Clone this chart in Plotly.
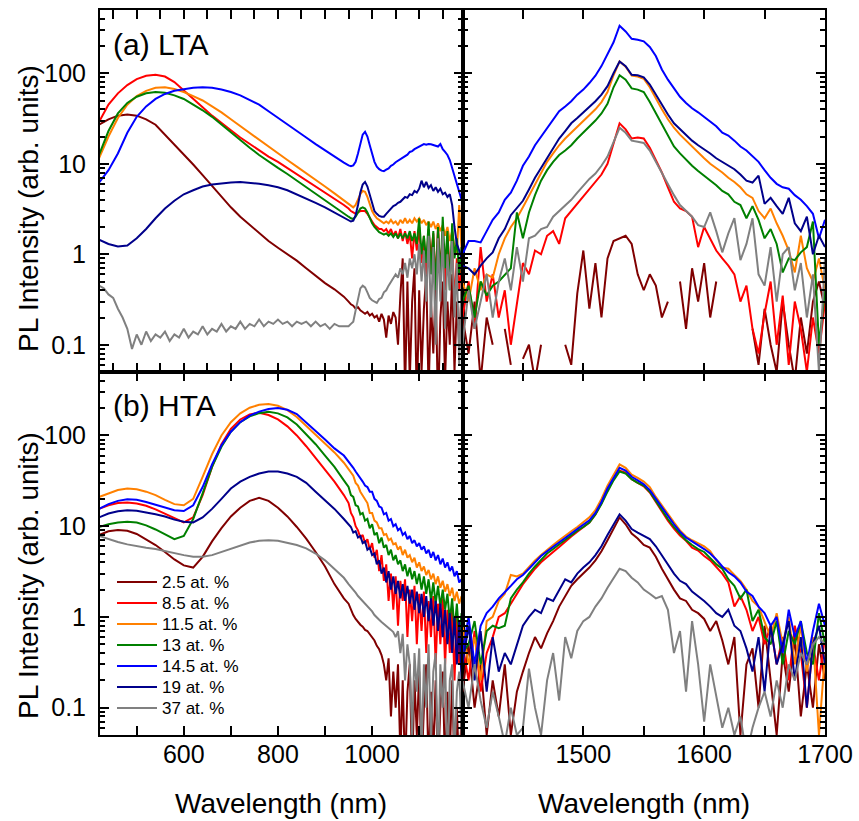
import plotly.graph_objects as go
import math

# ---------------- wavelength grids ----------------
wl_vis = list(range(420, 941, 20)) + list(range(950, 1191, 5))
wl_vis_fine = list(range(420, 941, 10)) + list(range(950, 1191, 5))
wl_ir = list(range(1400, 1701, 5))

labels = ["2.5 at. %", "8.5 at. %", "11.5 at. %", "13 at. %", "14.5 at. %", "19 at. %", "37 at. %"]
colors = ["#800000", "#FF0000", "#FF8000", "#008000", "#0000FF", "#00008B", "#808080"]

# ---------------- (a) LTA, visible ----------------
lta_vis_25 = [27, 31, 34, 35, 34, 31, 27, 21, 16.5, 12.5, 9.8, 7.5, 5.7, 4.3, 3.3, 2.6, 2.1, 1.7, 1.4, 1.18, 1.0, 0.85, 0.70, 0.58, 0.48, 0.41, 0.34,
              0.30, 0.28, 0.27, 0.25, 0.26, 0.24, 0.23, 0.22, 0.23, 0.21, 0.22, 0.20, 0.21, 0.18, 0.22, 0.19, 0.12, 0.21, 0.17, 0.23,
              0.2, 0.1, 0.35, 0.9, 0.03, 0.5, 0.04, 0.3, 0.7, 0.02, 0.4, 0.05, 0.25, 0.6, 0.03, 0.3, 0.08, 0.45, 0.02, 0.2, 0.5, 0.04,
              0.3, 0.1, 0.6, 0.05, 0.3, 0.1, 0.4]
lta_vis_85 = [29, 45, 60, 74, 86, 94, 96, 92, 80, 65, 52, 42, 34, 28, 23.5, 19.5, 16.5, 14, 12, 10.5, 9, 7.7, 6.6, 5.6, 4.8, 4.1, 3.5,
              3.2, 3.0, 2.9, 2.8, 2.9, 3.0, 3.0, 3.0, 2.8, 2.5, 2.3, 2.1, 2.0, 1.9, 1.9, 1.8, 1.9, 1.7, 1.9, 1.6,
              1.8, 1.5, 1.9, 1.4, 1.8, 1.3, 1.7, 0.9, 1.8, 1.1, 2.0, 0.8, 1.6, 0.6, 1.9, 0.9, 1.7, 0.5, 2.0, 0.7, 1.5, 0.4,
              1.8, 0.6, 1.2, 0.3, 0.9, 0.4, 0.8]
lta_vis_115 = [11.5, 20, 32, 45, 56, 64, 69, 70, 67, 62, 56, 50, 43, 37, 31, 26, 22, 18.5, 15.5, 13, 11, 9.3, 7.9, 6.6, 5.6, 4.7, 3.9,
               3.6, 3.4, 3.3, 3.5, 4.0, 4.6, 5.0, 4.9, 4.3, 3.6, 3.0, 2.7, 2.5, 2.4, 2.3, 2.2, 2.3, 2.2, 2.4, 2.2,
               2.3, 2.1, 2.4, 2.2, 2.5, 2.2, 2.4, 2.2, 2.5, 2.3, 2.5, 2.2, 2.4, 2.1, 2.3, 2.0, 2.3, 1.9, 2.2, 1.8, 2.1, 1.6,
               2.0, 1.4, 1.8, 1.2, 1.0, 3.5, 1.1]
lta_vis_13 = [12.5, 23, 36, 47, 55, 60, 62, 61, 57, 52, 45, 39, 33, 27, 22, 18, 15, 12.5, 10.5, 9, 7.7, 6.5, 5.5, 4.6, 3.9, 3.3, 2.8,
              2.6, 2.5, 2.45, 2.6, 2.9, 3.2, 3.3, 3.2, 2.9, 2.5, 2.2, 2.0, 1.85, 1.75, 1.7, 1.65, 1.7, 1.6, 1.7, 1.55,
              1.7, 1.5, 1.7, 1.5, 1.7, 1.5, 1.8, 1.4, 1.7, 1.3, 2.5, 1.0, 1.6, 0.8, 2.3, 0.6, 1.8, 0.4, 2.0, 0.5, 2.6, 0.7,
              1.8, 0.4, 2.2, 0.9, 1.5, 0.6, 1.2]
lta_vis_145 = [6.2, 8.5, 13, 22, 33, 43, 52, 59, 64, 67, 69, 70, 69, 66, 62, 57, 51, 45, 38, 32, 27, 23, 19.5, 16.5, 14, 12, 10.3,
               9.6, 9.4, 9.6, 10.5, 13, 17, 21, 22.5, 20, 16, 12.5, 10.5, 9.3, 8.7, 8.4, 8.3, 8.6, 8.9, 9.5, 9.8,
               10.4, 10.8, 11.3, 11.5, 12.2, 12.6, 13.5, 13.8, 14.5, 15, 15.5, 15.8, 16.5, 16.2, 16.5, 16.4, 16, 15.8, 15.5, 16.5, 14.5, 13.5,
               12.5, 11, 9, 7.5, 6, 4.8, 4.0]
lta_vis_19 = [1.45, 1.3, 1.22, 1.25, 1.5, 1.9, 2.5, 3.2, 3.9, 4.6, 5.1, 5.6, 5.9, 6.1, 6.2, 6.3, 6.2, 6.0, 5.8, 5.5, 5.1, 4.6, 4.1, 3.7, 3.3, 2.9, 2.55,
              2.4, 2.3, 2.35, 2.7, 3.5, 4.8, 5.9, 6.3, 5.6, 4.5, 3.6, 3.0, 2.8, 2.65, 2.6, 2.6, 2.8, 3.0, 3.2, 3.4,
              3.5, 3.7, 3.8, 4.0, 4.3, 4.2, 4.6, 4.5, 5.0, 4.8, 5.3, 6.5, 5.5, 6.3, 5.4, 5.8, 5.0, 5.5, 4.9, 5.3, 4.6, 4.8,
              4.3, 4.6, 3.5, 2.0, 1.3, 1.1, 0.9]
# 37 at.% uses the finer grid (wl_vis_fine)
lta_vis_37 = [0.45, 0.42, 0.36, 0.33, 0.25, 0.2, 0.15, 0.09, 0.13, 0.1, 0.14, 0.11, 0.13, 0.12, 0.14, 0.11, 0.13, 0.12, 0.15, 0.12,
              0.14, 0.13, 0.16, 0.13, 0.15, 0.14, 0.17, 0.14, 0.16, 0.15, 0.18, 0.15, 0.17, 0.16, 0.19, 0.16, 0.18, 0.17, 0.19, 0.17,
              0.18, 0.16, 0.18, 0.17, 0.18, 0.16, 0.18, 0.16, 0.17, 0.15, 0.17, 0.16, 0.16,
              0.16, 0.17, 0.18, 0.24, 0.33, 0.42, 0.45, 0.43, 0.38, 0.33, 0.31, 0.30, 0.29, 0.32, 0.33, 0.38, 0.40, 0.45, 0.5, 0.55,
              0.6, 0.55, 0.7, 0.6, 0.8, 0.55, 0.9, 0.7, 1.0, 0.6, 1.3, 0.5, 1.1, 0.3, 1.6, 0.2, 1.2, 0.1, 1.5, 0.3, 1.8, 0.15,
              1.0, 0.4, 1.4, 0.2, 0.8, 0.06, 0.5]

# ---------------- (a) LTA, infrared ----------------
lta_ir_25 = [0.2, 0.08, 0.3, 0.04, 0.2, 0.1, None, 0.15, 0.06, None, 0.07, 0.1, 0.04, 0.1, None, 0.06, None, 0.1, 0.06, 0.37,
             1.1, 0.25, 0.8, 0.2, 0.9, 1.4, 1.5, 1.6, 1.3, 0.6, 0.4, 0.6, 0.45, 0.2, 0.3, None, 0.5, 0.15, 0.7, 0.3,
             0.8, 0.2, 0.5, None, 0.3, None, 0.08, None, 0.15, 0.06, 0.25, 0.1, 0.05, 0.3, 0.1, 0.04, 0.2, 0.08, 0.3, 0.5, 0.25]
lta_ir_85 = [0.2, 0.5, 0.15, 1.2, 0.3, 0.6, 0.2, 0.4, 0.1, 0.3, 0.8, 0.6, 1.1, 1.0, 1.6, 1.8, 1.3, 2.5, 3.0, 3.6,
             4.3, 5.2, 6.2, 7.6, 10, 17, 28, 24, 19, 19.5, 19, 15, 11, 8, 5.5, 3.8, 3.2, 3.0, 2.6, 1.2,
             2.0, 1.5, 1.1, 0.9, 0.75, 0.6, 0.3, 0.45, 0.15, 0.08, 0.22, 0.5, 0.1, 0.35, 0.06, 0.3, 0.15, 0.05, 0.2, 0.08, 0.3]
lta_ir_115 = [0.5, 0.3, 0.7, 0.4, 0.6, 0.55, 1.0, 1.5, 2.0, 2.5, 3.3, 4.4, 6, 8, 10.5, 13, 16, 19, 22, 26,
              30, 34, 40, 48, 62, 95, 135, 118, 94, 92, 87, 70, 52, 40, 31, 25, 21, 18, 15.5, 13.5,
              11.5, 10, 9, 8, 7, 6.3, 5.5, 4.6, 4.2, 3.0, 2.5, 3.2, 2.2, 1.6, 1.1, 0.63, 1.6, 0.7, 0.5, 0.9, 0.4]
lta_ir_13 = [0.3, 0.45, 0.2, 0.5, 0.35, 0.45, 0.5, 0.6, 0.7, 2.9, 1.5, 2.9, 4.5, 6.5, 8.5, 10.5, 12.5, 14, 16, 19,
             22, 26, 30, 36, 46, 70, 95, 85, 68, 66, 62, 48, 36, 27, 20, 15.5, 13, 11, 9.5, 8.3,
             7.4, 6.6, 5.8, 5.0, 4.6, 3.8, 3.5, 2.5, 3.4, 2.4, 1.5, 1.9, 1.3, 0.63, 0.9, 0.86, 1.05, 1.2, 2.3, 0.1, 0.4]
lta_ir_145 = [1.0, 1.4, 1.4, 1.35, 1.8, 2.4, 2.9, 4.0, 4.8, 6.5, 9.5, 12, 16, 20, 25, 31, 38, 43, 49, 58,
              66, 78, 94, 120, 160, 220, 335, 290, 240, 235, 225, 195, 155, 110, 85, 68, 55, 47, 41, 37,
              33, 29, 26, 22, 20.5, 18, 15.5, 14, 12, 10.5, 8.5, 7, 6, 5.5, 5.3, 4.5, 4, 3.4, 2.8, 1.5, 2.4]
lta_ir_19 = [0.75, 0.7, 0.6, 0.75, 0.9, 1.05, 1.5, 1.9, 2.7, 3.2, 3.9, 5.2, 7, 9, 11.5, 14.5, 19, 23, 28, 32,
             37, 42, 49, 58, 72, 100, 135, 120, 96, 95, 90, 75, 58, 45, 35, 28, 24, 20.5, 18, 16,
             14.5, 13, 11.5, 10.5, 9.5, 8.7, 7.6, 6.5, 6.2, 7.4, 3.6, 4.2, 3.4, 2.8, 4.2, 2.2, 1.8, 2.6, 1.0, 1.6, 1.2]
lta_ir_37 = [0.1, 0.4, 0.15, 0.3, 0.6, 0.2, 0.5, 0.9, 0.4, 1.2, 0.5, 1.5, 1.6, 1.9, 2.0, 2.6, 3.0, 3.4, 4.0, 4.8,
             5.8, 6.8, 7.8, 9.5, 12, 17, 25, 22, 18, 17.5, 17, 14, 10.5, 8, 6.0, 4.5, 3.5, 3.0, 2.6, 2.1,
             2.0, 2.9, 1.8, 1.05, 1.7, 2.5, 0.86, 1.3, 2.5, 0.6, 0.45, 1.2, 0.3, 1.0, 1.2, 0.4, 0.8, 0.2, 0.6, 0.05, 0.9]

# ---------------- (b) HTA, visible ----------------
hta_vis_25 = [8.0, 8.8, 9.1, 8.9, 8.2, 7.2, 6.2, 5.2, 4.3, 3.7, 3.5, 4.6, 6.8, 9.5, 12.8, 16, 19, 20.5, 19, 16, 12.8, 9.8, 7.3, 5.2, 3.6, 2.3, 1.6,
              1.4, 1.2, 1.05, 0.95, 0.88, 0.82, 0.78, 0.72, 0.70, 0.64, 0.6, 0.55, 0.48, 0.44, 0.38, 0.3, 0.2, 0.35, 0.08, 0.25,
              0.1, 0.3, 0.03, 0.2, 0.02, 0.15, 0.3, 0.02, 0.2, 0.05, 0.25, 0.02, 0.1, 0.3, 0.02, 0.15, 0.03, 0.2, 0.02, 0.1, 0.25, 0.02,
              0.15, 0.03, 0.2, 0.02, 0.1, 0.02, 0.08]
hta_vis_85 = [15.5, 17, 18, 18.2, 17.8, 16.8, 15.3, 13.8, 12.2, 11, 12.5, 22, 45, 80, 118, 150, 170, 178, 168, 150, 126, 100, 76, 56, 42, 31, 22,
              18, 14, 12.5, 10, 9, 7.5, 8, 6.5, 7.2, 5.5, 6.5, 4.5, 5.5, 3.2, 4.8, 2.5, 3.8, 1.5, 3.0, 1.2,
              2.8, 0.8, 2.5, 1.5, 2.6, 0.6, 2.0, 0.9, 2.2, 0.5, 1.8, 0.7, 1.9, 0.4, 1.5, 0.6, 1.7, 0.3, 1.4, 0.5, 1.6, 0.3,
              1.2, 0.4, 1.3, 0.2, 1.0, 0.3, 0.9]
hta_vis_115 = [21, 23, 25, 26, 25.5, 24, 22, 19.5, 17.5, 17, 20, 35, 62, 100, 140, 175, 202, 218, 222, 212, 190, 160, 128, 100, 80, 65, 50,
               42, 38, 36, 30, 28, 24, 22, 19.5, 18, 14, 14, 11.5, 11, 9.5, 9.5, 8, 8.2, 7, 7.3, 6.3,
               6.5, 5.5, 6, 4.8, 5.5, 4.5, 4.8, 4, 4.5, 3.5, 4, 3.2, 3.6, 2.9, 3.3, 2.6, 3.0, 2.3, 2.8, 2.1, 2.5, 1.9,
               2.3, 1.7, 2.1, 1.5, 1.9, 1.4, 1.7]
hta_vis_13 = [9.8, 10.5, 11, 11.2, 11, 10.2, 9.2, 8.2, 7.2, 7.8, 12, 23, 45, 75, 110, 140, 162, 176, 182, 175, 158, 132, 104, 80, 60, 45, 32,
              27, 22, 21, 17, 16.5, 13.5, 14, 11.5, 12, 9.5, 10.5, 8, 8.5, 6.5, 7.5, 5.8, 6.2, 4.8, 5.5, 4.2,
              4.8, 3.8, 4.2, 3.2, 3.8, 2.8, 3.5, 2.6, 3.2, 2.3, 3.0, 2.0, 2.8, 1.8, 2.6, 1.5, 2.4, 1.4, 2.2, 1.3, 2.0, 1.2,
              1.8, 0.9, 1.6, 0.7, 1.4, 0.6, 1.1]
hta_vis_145 = [15.5, 17.5, 19, 19.8, 19.5, 18.5, 17.2, 16, 15, 14.7, 17, 27, 48, 78, 110, 140, 165, 183, 195, 200, 192, 172, 140, 112, 90, 72, 60,
               52, 47, 44, 40, 37, 34, 31, 28, 27, 24, 24, 20, 19, 16.5, 16, 13.5, 14, 11.5, 12, 10,
               10.5, 9, 9.5, 8, 8.5, 7.2, 7.8, 6.5, 7, 6, 6.5, 5.5, 6, 5, 5.5, 4.5, 5.2, 4.2, 4.8, 3.8, 4.4, 3.5,
               4, 3.2, 3.6, 2.8, 3.2, 2.4, 2.6]
hta_vis_19 = [12.5, 13.8, 14.6, 15, 14.8, 14.2, 13.5, 12.8, 11.8, 11.2, 11, 12.5, 15.5, 20, 26, 31, 35, 38, 40, 40, 38, 35, 30, 24, 19.5, 15.5, 12,
              10.5, 9.8, 8.5, 8.8, 7.5, 7.8, 6.5, 6.8, 5.5, 5.8, 4.8, 5, 3.8, 4.2, 3.0, 3.5, 2.4, 3.2, 2.0, 2.8,
              1.8, 2.5, 1.6, 2.3, 1.5, 2.2, 1.4, 2.0, 1.2, 1.9, 1.1, 1.8, 1.0, 1.7, 0.9, 1.6, 0.8, 1.5, 0.7, 1.4, 0.6, 1.2,
              0.5, 1.1, 0.4, 1.0, 0.3, 0.9, 0.2]
hta_vis_37 = [7.8, 7.2, 6.7, 6.3, 6.0, 5.8, 5.6, 5.3, 5.0, 4.8, 4.6, 4.6, 4.8, 5.2, 5.7, 6.2, 6.6, 6.9, 7.0, 6.9, 6.6, 6.2, 5.7, 5.0, 4.2, 3.4, 2.7,
              2.3, 2.15, 2.0, 1.85, 1.7, 1.6, 1.5, 1.4, 1.3, 1.25, 1.15, 1.05, 1.0, 0.93, 0.88, 0.84, 0.8, 0.76, 0.72, 0.68,
              0.6, 0.7, 0.4, 0.65, 0.2, 0.5, 0.3, 0.05, 0.4, 0.15, 0.45, 0.03, 0.3, 0.1, 0.5, 0.04, 0.25, 0.4, 0.02, 0.3, 0.1, 0.35,
              0.02, 0.2, 0.3, 0.03, 0.15, 0.25, 0.05]

# ---------------- (b) HTA, infrared ----------------
hta_ir_25 = [0.15, 0.5, 0.1, 0.3, 0.05, 0.2, 0.08, 0.3, 0.05, 0.15, 0.25, 0.4, 0.6, 0.45, 0.66, 0.9, 1.3, 1.7, 2.2, 2.6,
             3.0, 3.5, 4.2, 5.3, 7, 9.5, 12.5, 10.5, 8.3, 7.3, 6.2, 5.8, 4.6, 3.4, 2.6, 2.0, 1.6, 1.5, 1.2, 1.1,
             0.95, 0.7, 0.9, 0.55, 0.3, 0.6, 0.05, 0.3, 0.45, 0.1, 0.8, 0.2, 0.05, 0.4, 0.15, 0.6, 0.08, 0.3, 0.1, 0.5, 0.2]
hta_ir_85 = [0.5, 0.2, 0.7, 0.15, 0.4, 0.6, 1.0, 1.1, 1.4, 1.8, 2.3, 2.8, 3.4, 4.0, 4.6, 5.2, 5.9, 6.8, 7.7, 8.7,
             9.8, 11, 13.5, 18, 25, 33, 41, 39, 33, 30, 27.5, 23.5, 18.5, 14.5, 11.5, 9.4, 7.9, 6.9, 5.8, 5.4,
             4.7, 4.2, 3.5, 3.0, 2.4, 1.3, 1.7, 1.2, 0.7, 1.0, 0.5, 0.8, 0.3, 0.6, 0.2, 0.8, 0.4, 0.1, 0.5, 0.2, 0.6]
hta_ir_115 = [0.8, 0.3, 0.6, 0.2, 0.9, 1.0, 1.5, 1.8, 2.9, 2.8, 3.0, 3.6, 4.2, 4.8, 5.5, 6.2, 7.0, 7.9, 8.8, 9.8,
              11, 12.5, 15, 20, 28, 37, 48, 44, 37, 34, 31, 27, 21, 17, 13.5, 11, 9, 7.7, 7, 6.5,
              6, 5.3, 4.2, 3.5, 3.4, 2.9, 2.5, 2.0, 1.5, 1.3, 0.9, 0.6, 1.1, 0.5, 1.0, 0.3, 0.8, 0.25, 0.6, 0.05, 0.4]
hta_ir_13 = [0.4, 0.5, 0.9, 0.3, 0.7, 0.8, 0.75, 0.8, 1.6, 2.0, 2.4, 3.0, 3.6, 4.3, 5.0, 5.6, 6.3, 7.2, 8.0, 8.9,
             9.8, 11, 13.5, 17.5, 24, 32, 40, 38, 33, 30, 28, 24, 19, 15, 12, 9.8, 8.2, 7.0, 6.2, 5.6,
             5.2, 4.4, 3.8, 3.4, 2.6, 2.2, 1.6, 2.0, 0.9, 1.2, 0.6, 0.5, 0.9, 0.3, 0.7, 0.5, 0.9, 0.4, 0.3, 1.1, 0.5]
hta_ir_145 = [0.4, 1.0, 0.3, 0.8, 1.1, 1.3, 1.6, 1.9, 2.2, 2.6, 2.9, 3.4, 4.0, 4.7, 5.3, 5.9, 6.6, 7.4, 8.3, 9.3,
              10.3, 11.6, 14, 18.5, 26, 34, 44, 41, 35, 32, 29, 25, 20, 16, 12.8, 10.5, 8.7, 7.5, 6.8, 6.2,
              5.6, 5.0, 4.3, 3.6, 3.1, 2.8, 2.4, 1.9, 1.7, 1.3, 1.1, 0.8, 1.0, 0.4, 1.2, 0.6, 0.9, 0.3, 0.7, 1.4, 0.8]
hta_ir_19 = [0.3, 0.8, 0.2, 0.7, 0.15, 0.6, 0.25, 0.4, 0.3, 0.5, 0.8, 1.0, 1.2, 1.1, 1.6, 1.5, 2.0, 2.6, 2.4, 3.0,
             3.5, 4.0, 4.8, 6.0, 8, 10.5, 13.5, 11.5, 9.3, 8.5, 7.8, 7.2, 6.0, 4.8, 3.8, 3.0, 2.5, 2.3, 1.9, 1.7,
             1.5, 1.3, 1.1, 1.0, 1.2, 0.8, 0.7, 0.45, 0.25, 0.6, 0.15, 0.8, 0.3, 0.5, 0.9, 0.2, 0.6, 0.1, 0.5, 0.8, 0.3]
hta_ir_37 = [0.2, 0.1, 0.3, 0.12, 0.06, 0.15, 0.08, 0.04, 0.1, 0.05, 0.06, 0.27, 0.1, 0.05, 0.2, 0.4, 0.12, 0.6, 0.35, 0.7,
             0.9, 1.0, 1.3, 1.6, 2.1, 2.7, 3.4, 3.2, 2.7, 2.4, 2.0, 1.8, 1.6, 1.7, 1.2, 0.4, 0.7, 0.15, 0.9, 0.3,
             0.07, 0.3, 0.14, 0.06, 0.1, 0.05, 0.08, 0.03, 0.06, 0.1, 0.15, 0.08, 0.2, 0.1, 0.3, 0.2, 0.4, 0.3, 0.5, 0.6, 0.5]

panels = [
    ("x", "y", [wl_vis] * 6 + [wl_vis_fine],
     [lta_vis_25, lta_vis_85, lta_vis_115, lta_vis_13, lta_vis_145, lta_vis_19, lta_vis_37]),
    ("x2", "y2", [wl_ir] * 7, [lta_ir_25, lta_ir_85, lta_ir_115, lta_ir_13, lta_ir_145, lta_ir_19, lta_ir_37]),
    ("x3", "y3", [wl_vis] * 7, [hta_vis_25, hta_vis_85, hta_vis_115, hta_vis_13, hta_vis_145, hta_vis_19, hta_vis_37]),
    ("x4", "y4", [wl_ir] * 7, [hta_ir_25, hta_ir_85, hta_ir_115, hta_ir_13, hta_ir_145, hta_ir_19, hta_ir_37]),
]

fig = go.Figure()
for xa, ya, grids, series in panels:
    for i, vals in enumerate(series):
        fig.add_trace(go.Scatter(
            x=grids[i], y=vals, mode="lines", xaxis=xa, yaxis=ya,
            line=dict(color=colors[i], width=2),
            name=labels[i], showlegend=False, connectgaps=False,
        ))

W, H = 859, 821
FONT = "Liberation Sans, Arial, sans-serif"
xl = [100 / W, 462.5 / W]
xr = [462.5 / W, 825 / W]
yt = [1 - 372 / H, 1 - 10 / H]
yb = [1 - 735 / H, 1 - 372 / H]

common = dict(showline=True, linecolor="black", linewidth=2, mirror="ticks",
              ticks="inside", ticklen=9, tickwidth=2, tickcolor="black",
              showgrid=False, zeroline=False, automargin=False,
              tickfont=dict(family=FONT, size=25, color="black"))

vis_minor = list(range(450, 1200, 50))
ir_ticks = list(range(1400, 1701, 50))
ymajor = [0.1, 1, 10, 100]
yminor = [0.06, 0.07, 0.08, 0.09] + [k / 10 for k in range(2, 10)] + list(range(2, 10)) + \
         list(range(20, 100, 10)) + [200, 300, 400]

def yax(domain, anchor, show):
    return dict(common, domain=domain, anchor=anchor, type="log",
                range=[math.log10(0.05), math.log10(500)], ticklabelstandoff=7,
                tickmode="array", tickvals=ymajor,
                ticktext=["0.1", "1", "10", "100"] if show else ["", "", "", ""],
                minor=dict(tickmode="array", tickvals=yminor, ticks="inside", ticklen=5,
                           tickwidth=1.5, tickcolor="black", showgrid=False))

fig.update_layout(
    template="none",
    width=W, height=H, margin=dict(l=0, r=0, t=0, b=0, pad=0, autoexpand=False),
    paper_bgcolor="white", plot_bgcolor="white",
    font=dict(family=FONT, color="black"),
    showlegend=False,
    xaxis=dict(common, domain=xl, anchor="y", range=[422, 1192], tickmode="array",
               tickvals=vis_minor, ticktext=[""] * len(vis_minor)),
    xaxis2=dict(common, domain=xr, anchor="y2", range=[1400, 1700], tickmode="array",
                tickvals=ir_ticks, ticktext=[""] * len(ir_ticks)),
    xaxis3=dict(common, domain=xl, anchor="y3", range=[422, 1192], tickmode="array", ticklabelstandoff=-4,
                tickvals=[500, 600, 700, 800, 900, 1000, 1100],
                ticktext=["", "600", "", "800", "", "1000", ""]),
    xaxis4=dict(common, domain=xr, anchor="y4", range=[1400, 1700], tickmode="array", ticklabelstandoff=-4,
                tickvals=ir_ticks, ticktext=["", "", "1500", "", "1600", "", "1700"]),
    yaxis=yax(yt, "x", True),
    yaxis2=yax(yt, "x2", False),
    yaxis3=yax(yb, "x3", True),
    yaxis4=yax(yb, "x4", False),
)

ann = [
    dict(text="(a) LTA", x=111 / W, y=1 - 44 / H, xanchor="left", yanchor="middle", font=dict(size=30)),
    dict(text="(b) HTA", x=111 / W, y=1 - 405 / H, xanchor="left", yanchor="middle", font=dict(size=30)),
    dict(text="PL Intensity (arb. units)", x=28 / W, y=1 - 209 / H, textangle=-90,
         xanchor="center", yanchor="middle", font=dict(size=28)),
    dict(text="PL Intensity (arb. units)", x=28 / W, y=1 - 576 / H, textangle=-90,
         xanchor="center", yanchor="middle", font=dict(size=28)),
    dict(text="Wavelength (nm)", x=281 / W, y=1 - 803 / H, xanchor="center", yanchor="middle", font=dict(size=28)),
    dict(text="Wavelength (nm)", x=643.5 / W, y=1 - 803 / H, xanchor="center", yanchor="middle", font=dict(size=28)),
]

# legend drawn as line samples + labels inside panel (b)
shapes = []
LEG_Y0, LEG_DY = 582, 21
for i, lab in enumerate(labels):
    yc = 1 - (LEG_Y0 + i * LEG_DY) / H
    shapes.append(dict(type="line", xref="paper", yref="paper",
                       x0=117 / W, x1=157 / W, y0=yc, y1=yc,
                       line=dict(color=colors[i], width=2)))
    ann.append(dict(text=lab, x=160 / W, y=yc, xanchor="left", yanchor="middle", font=dict(size=17)))

for a in ann:
    a.update(xref="paper", yref="paper", showarrow=False)
    a["font"].update(family=FONT, color="black")
fig.update_layout(annotations=ann, shapes=shapes)

fig.write_html("out.html")
